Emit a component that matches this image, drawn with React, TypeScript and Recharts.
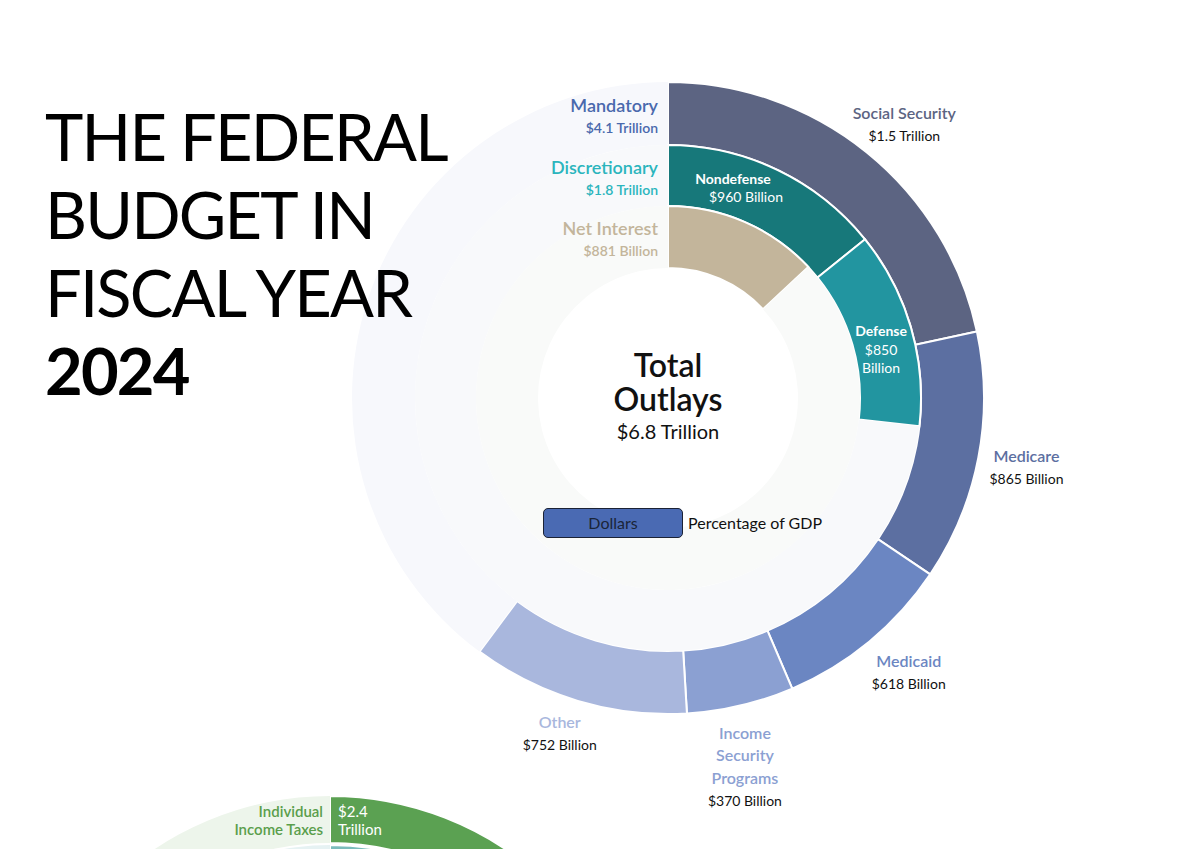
import { Cell, Pie, PieChart } from "recharts";

// outlays, FY2024, billions of dollars
const mandatoryNames = ["Social Security", "Medicare", "Medicaid", "Income Security Programs", "Other"];
const mandatoryValues = [1461, 865, 618, 370, 752];
const mandatoryAmounts = ["$1.5 Trillion", "$865 Billion", "$618 Billion", "$370 Billion", "$752 Billion"];

const discretionaryNames = ["Nondefense", "Defense"];
const discretionaryValues = [960, 850];
const discretionaryAmounts = ["$960 Billion", "$850 Billion"];

const netInterestNames = ["Net Interest"];
const netInterestValues = [881];

const groupNames = ["Mandatory", "Discretionary", "Net Interest"];
const groupAmounts = ["$4.1 Trillion", "$1.8 Trillion", "$881 Billion"];

// revenues (only the top of this chart is on screen)
const revenueNames = ["Individual Income Taxes", "Payroll Taxes"];
const revenueValues = [2426, 1709];
const revenueAmounts = ["$2.4 Trillion", "$1.7 Trillion"];
const revenueTotal = 4919;

const sum = (a: number[]) => a.reduce((s, v) => s + v, 0);
const outlaysTotal = sum(mandatoryValues) + sum(discretionaryValues) + sum(netInterestValues);

const FONT = "'Source Sans Pro', Lato, 'Noto Sans', sans-serif";
const RAD = Math.PI / 180;

const mandatoryColors = ["#5c6482", "#5c6fa1", "#6b86c2", "#8ba0d2", "#a9b7dd"];
const mandatoryLabelColors = ["#5c6482", "#5c6fa1", "#6b86c2", "#8ba0d2", "#a9b7dd"];
const discretionaryColors = ["#17787a", "#2295a0"];
const netInterestColor = "#c3b59b";
const groupColors = ["#4a69ad", "#2bb5bd", "#c3b59b"];
const revenueColors = ["#5ba152", "#7bbcbc"];
const revenueTracks = ["#edf5eb", "#e6f2f3"];

// small hand nudges for the outside labels, px
const labelNudge = [[7, 10], [0, 0], [8, -7], [-7, 13], [-4, -15]];

const ringData = (names: string[], values: number[], total: number) => [
  ...names.map((name, i) => ({ name, value: values[i] })),
  { name: "rest", value: total - sum(values) },
];

const mandatoryData = ringData(mandatoryNames, mandatoryValues, outlaysTotal);
const discretionaryData = ringData(discretionaryNames, discretionaryValues, outlaysTotal);
const netInterestData = ringData(netInterestNames, netInterestValues, outlaysTotal);

const wrap = (s: string) => (s === "Income Security Programs" ? ["Income", "Security", "Programs"] : [s]);

// group title placed left of 12 o'clock, at the middle of the ring
function groupTitle(p: any, g: number) {
  const midR = (p.innerRadius + p.outerRadius) / 2;
  const x = p.cx - 10;
  const y = p.cy - midR;
  return (
    <g key={"g" + g}>
      <text x={x} y={y - 2} textAnchor="end" fill={groupColors[g]} fontSize={18} fontWeight={600} fontFamily={FONT}>
        {groupNames[g]}
      </text>
      <text x={x} y={y + 19} textAnchor="end" fill={groupColors[g]} fontSize={14} fontWeight={600} fontFamily={FONT}>
        {groupAmounts[g]}
      </text>
    </g>
  );
}

function mandatoryLabel(p: any) {
  const { cx, cy, midAngle, outerRadius, index } = p;
  if (index >= mandatoryValues.length) return <g />;
  const r = outerRadius + 49;
  const x = cx + r * Math.cos(-midAngle * RAD) + labelNudge[index][0];
  const y = cy + r * Math.sin(-midAngle * RAD) + labelNudge[index][1];
  const lines = wrap(mandatoryNames[index]);
  const lh = 22.6;
  const top = y - (lines.length * lh) / 2;
  return (
    <g>
      {index === 0 && groupTitle(p, 0)}
      {lines.map((l, i) => (
        <text key={i} x={x} y={top + i * lh} textAnchor="middle" dominantBaseline="central"
          fill={mandatoryLabelColors[index]} fontSize={16} fontWeight={600} fontFamily={FONT}>
          {l}
        </text>
      ))}
      <text x={x} y={top + lines.length * lh} textAnchor="middle" dominantBaseline="central"
        fill="#111" fontSize={14} fontFamily={FONT}>
        {mandatoryAmounts[index]}
      </text>
    </g>
  );
}

const discretionaryShift = [-6.7, 3.5];
function discretionaryLabel(p: any) {
  const { cx, cy, midAngle, innerRadius, outerRadius, index } = p;
  if (index >= discretionaryValues.length) return <g />;
  const r = (innerRadius + outerRadius) / 2;
  const a = midAngle - discretionaryShift[index];
  const x = cx + r * Math.cos(-a * RAD);
  const y = cy + r * Math.sin(-a * RAD);
  const amount = index === 1 ? discretionaryAmounts[index].split(" ") : [discretionaryAmounts[index]];
  const lines = [discretionaryNames[index], ...amount];
  const lh = 18.5;
  const top = y - ((lines.length - 1) * lh) / 2;
  return (
    <g>
      {index === 0 && groupTitle(p, 1)}
      {lines.map((l, i) => (
        <text key={i} x={x + (index === 0 ? (i === 0 ? -7 : 6) : -4)} y={top + i * lh} textAnchor="middle"
          dominantBaseline="central" fill="#fff" fontSize={14} fontWeight={i === 0 ? 700 : 400} fontFamily={FONT}>
          {l}
        </text>
      ))}
    </g>
  );
}

function netInterestLabel(p: any) {
  if (p.index !== 0) return <g />;
  return groupTitle(p, 2);
}

function revenueLabel(p: any) {
  const { cx, cy, innerRadius, outerRadius, index } = p;
  if (index !== 0) return <g />;
  const y = cy - (innerRadius + outerRadius) / 2;
  const name = ["Individual", "Income Taxes"];
  const amt = revenueAmounts[0].split(" ");
  return (
    <g>
      {name.map((l, i) => (
        <text key={"n" + i} x={cx - 7} y={y - 9 + i * 18.5} textAnchor="end" dominantBaseline="central"
          fill="#5a9e4c" fontSize={15} fontWeight={600} fontFamily={FONT}>
          {l}
        </text>
      ))}
      {amt.map((l, i) => (
        <text key={"a" + i} x={cx + 8} y={y - 9 + i * 18.5} textAnchor="start" dominantBaseline="central"
          fill="#fff" fontSize={15} fontFamily={FONT}>
          {l}
        </text>
      ))}
    </g>
  );
}

const CX = 668;
const CY = 398;
const RCX = 330;
const RCY = 1112;

export default function App() {
  return (
    <div style={{ position: "fixed", left: 0, top: 0, width: 1200, height: 849, overflow: "hidden", background: "#fff", fontFamily: FONT }}>
      <PieChart width={1200} height={849} margin={{ top: 0, right: 0, bottom: 0, left: 0 }}
        style={{ position: "absolute", left: 0, top: 0 }}>
        <Pie data={mandatoryData} dataKey="value" cx={CX} cy={CY} innerRadius={253} outerRadius={316}
          startAngle={90} endAngle={-270} label={mandatoryLabel} labelLine={false} isAnimationActive={false}>
          {mandatoryData.map((d, i) => (
            <Cell key={d.name} fill={i < mandatoryColors.length ? mandatoryColors[i] : "#f7f8fc"}
              stroke={i < mandatoryColors.length ? "#fff" : "none"} strokeWidth={2} />
          ))}
        </Pie>
        <Pie data={discretionaryData} dataKey="value" cx={CX} cy={CY} innerRadius={192} outerRadius={253}
          startAngle={90} endAngle={-270} label={discretionaryLabel} labelLine={false} isAnimationActive={false}>
          {discretionaryData.map((d, i) => (
            <Cell key={d.name} fill={i < discretionaryColors.length ? discretionaryColors[i] : "#f8f9fb"}
              stroke={i < discretionaryColors.length ? "#fff" : "none"} strokeWidth={2} />
          ))}
        </Pie>
        <Pie data={netInterestData} dataKey="value" cx={CX} cy={CY} innerRadius={130} outerRadius={192}
          startAngle={90} endAngle={-270} label={netInterestLabel} labelLine={false} isAnimationActive={false}>
          {netInterestData.map((d, i) => (
            <Cell key={d.name} fill={i === 0 ? netInterestColor : "#f9faf9"}
              stroke={i === 0 ? "#fff" : "none"} strokeWidth={2} />
          ))}
        </Pie>
        {revenueNames.map((name, k) => {
          const data = [
            { name, value: revenueValues[k] },
            { name: "rest", value: revenueTotal - revenueValues[k] },
          ];
          return (
            <Pie key={name} data={data} dataKey="value" cx={RCX} cy={RCY}
              innerRadius={k === 0 ? 269 : 222} outerRadius={k === 0 ? 316 : 267}
              startAngle={90} endAngle={-270} label={k === 0 ? revenueLabel : false} labelLine={false}
              isAnimationActive={false}>
              <Cell fill={revenueColors[k]} stroke="#fff" strokeWidth={2} />
              <Cell fill={revenueTracks[k]} stroke="none" />
            </Pie>
          );
        })}
      </PieChart>

      <div style={{ position: "absolute", left: 45, top: 97, fontSize: 65, letterSpacing: -1.8, lineHeight: "78px", color: "#000", fontWeight: 400 }}>
        <div>THE FEDERAL</div>
        <div>BUDGET IN</div>
        <div>FISCAL YEAR</div>
        <div style={{ fontWeight: 700 }}>2024</div>
      </div>

      <div style={{ position: "absolute", left: CX - 150, width: 300, top: 348, textAlign: "center", color: "#111" }}>
        <div style={{ fontSize: 32, fontWeight: 600, lineHeight: "34px" }}>Total</div>
        <div style={{ fontSize: 32, fontWeight: 600, lineHeight: "34px" }}>Outlays</div>
        <div style={{ fontSize: 20, lineHeight: "30px" }}>$6.8 Trillion</div>
      </div>

      <div style={{ position: "absolute", left: 543, top: 508, width: 138, height: 28, background: "#4a6ab3",
        border: "1px solid #1b2235", borderRadius: 5, textAlign: "center", lineHeight: "28px", fontSize: 16, color: "#1a2538" }}>
        Dollars
      </div>
      <div style={{ position: "absolute", left: 688, top: 508, lineHeight: "30px", fontSize: 16, color: "#111" }}>
        Percentage of GDP
      </div>
    </div>
  );
}
